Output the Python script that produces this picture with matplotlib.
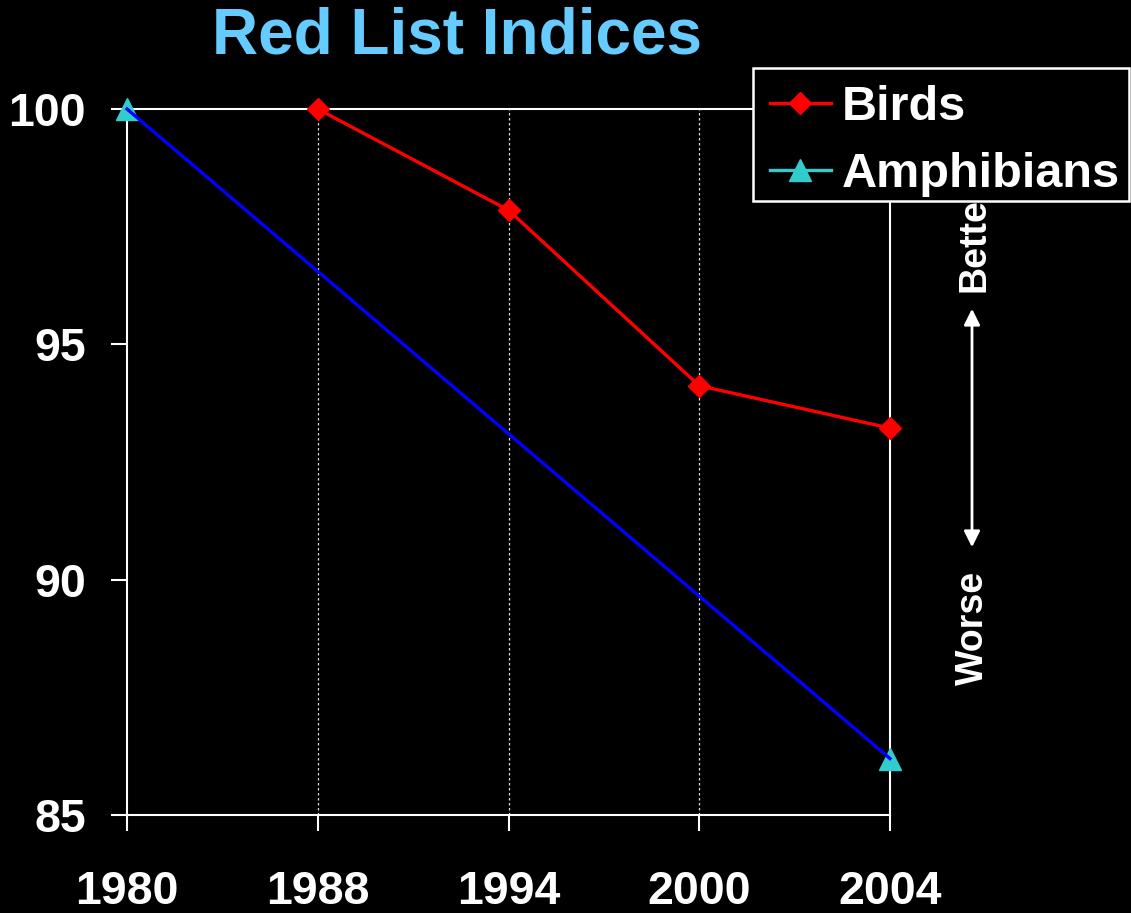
import matplotlib
matplotlib.use("Agg")
import matplotlib.pyplot as plt
from matplotlib.lines import Line2D
from matplotlib.patches import Rectangle, FancyArrowPatch

years = ["1980", "1988", "1994", "2000", "2004"]
birds_pos = [1, 2, 3, 4]
birds = [100.0, 97.85, 94.12, 93.22]
amph_pos = [0, 4]
amph = [100.0, 86.2]
yticks = [85, 90, 95, 100]

plt.rcParams['font.family'] = ['Liberation Sans', 'DejaVu Sans']
plt.rcParams['font.weight'] = 'bold'

W, H = 1131, 913
fig = plt.figure(figsize=(W/100, H/100), dpi=100, facecolor='black')
ax = fig.add_axes([127/W, 1-815/H, (890-127)/W, (815-109)/H])
ax.set_facecolor('black')

ax.set_xlim(0, 4)
ax.set_ylim(85, 100)
ax.set_xticks(range(len(years)))
ax.set_xticklabels(years)
ax.set_yticks(yticks)
ax.set_yticklabels([str(v) for v in yticks])

for s in ax.spines.values():
    s.set_color('white')
    s.set_linewidth(1.5)

ax.tick_params(axis='both', colors='white', length=11.5, width=1.5, labelsize=33.5)
ax.tick_params(axis='y', pad=18)
ax.tick_params(axis='x', pad=28)
for lbl in ax.get_xticklabels() + ax.get_yticklabels():
    lbl.set_fontweight('bold')

for i in range(1, len(years) - 1):
    ax.axvline(i, color='#dddddd', linestyle=(0, (2, 2)), linewidth=0.9, zorder=1)

ax.plot(birds_pos, birds, color='#ff0000', linewidth=2.4, marker='D', markersize=11,
        markerfacecolor='#ff0000', markeredgecolor='#ff0000', zorder=3, clip_on=False)
ax.plot(amph_pos, amph, color='#33cccc', linewidth=0, marker='^', markersize=16,
        markerfacecolor='#33cccc', markeredgecolor='#33cccc', zorder=3, clip_on=False)
ax.plot(amph_pos, amph, color='#0000ff', linewidth=2.4, zorder=4, clip_on=False)

fig.text(457/W, 1-36/H, "Red List Indices", color='#66ccff', fontsize=46,
         fontweight='bold', ha='center', va='center')

fig.text(975/W, 1-238/H, "Better", color='white', fontsize=27, fontweight='bold',
         rotation=90, ha='center', va='center', zorder=2)
fig.text(973/W, 1-628/H, "Worse", color='white', fontsize=27, fontweight='bold',
         rotation=90, ha='center', va='center', zorder=2)
fig.patches.append(FancyArrowPatch(
    (972/W, 1-306/H), (972/W, 1-550/H), transform=fig.transFigure,
    arrowstyle='<|-|>', mutation_scale=24, color='white', linewidth=2))

# legend frame
frame = Rectangle((753/W, 1-201/H), (1129-753)/W, (201-68)/H, transform=fig.transFigure,
                  facecolor='black', edgecolor='white', linewidth=1.8, zorder=9)
fig.patches.append(frame)

handles = [
    Line2D([], [], color='#ff0000', linewidth=2.4, marker='D', markersize=11,
           markerfacecolor='#ff0000', markeredgecolor='#ff0000'),
    Line2D([], [], color='#33cccc', linewidth=2.4, marker='^', markersize=16,
           markerfacecolor='#33cccc', markeredgecolor='#33cccc'),
]
leg = fig.legend(handles, ["Birds", "Amphibians"], loc='upper left',
                 bbox_to_anchor=(753/W, 1-68/H), frameon=False,
                 prop={'size': 35, 'weight': 'bold'}, labelcolor='white',
                 handlelength=1.25, handletextpad=0.23, borderpad=0.35,
                 labelspacing=0.45, borderaxespad=0)
leg.set_zorder(10)

fig.savefig("out.png", dpi=100, facecolor='black')
